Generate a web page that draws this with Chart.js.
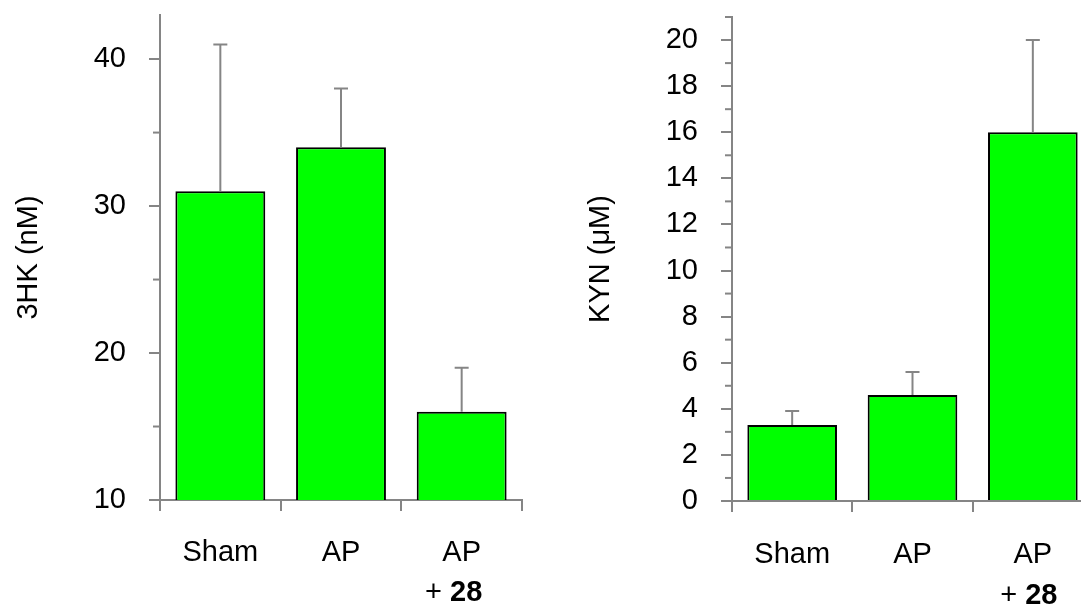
<!DOCTYPE html>
<html lang="en">
<head>
    <meta charset="UTF-8">
    <meta name="viewport" content="width=device-width, initial-scale=1.0">
    <title>3HK y KYN</title>
    <script src="https://cdn.jsdelivr.net/npm/chart.js"></script>
    <style>
        body {
            margin: 0;
            background: #ffffff;
            width: 1081px;
            height: 608px;
            overflow: hidden;
            position: relative;
        }
        #hkChart {
            position: absolute;
            left: 0;
            top: 0;
        }
        #kynChart {
            position: absolute;
            left: 540px;
            top: 0;
        }
    </style>
</head>
<body>
    <canvas id="hkChart" width="540" height="608"></canvas>
    <canvas id="kynChart" width="570" height="608"></canvas>

    <script>
        // Grupos (segunda línea solo en el tercero)
        const categories = [['Sham'], ['AP'], ['AP', '+ 28']];

        // 3HK (nM)
        const hkValues = [31, 34, 16];
        const hkErrors = [10, 4, 3];
        const hkMajorTicks = [10, 20, 30, 40];
        const hkMinorTicks = [15, 25, 35];

        // KYN (µM)
        const kynValues = [3.3, 4.6, 16];
        const kynErrors = [0.6, 1.0, 4.0];
        const kynMajorTicks = [0, 2, 4, 6, 8, 10, 12, 14, 16, 18, 20];
        const kynMinorTicks = [1, 3, 5, 7, 9, 11, 13, 15, 17, 19, 21];

        const axisColor = '#858585';
        const fontFamily = "'Liberation Sans', Arial, sans-serif";
        const fontSize = 29;

        // Barras de error, ticks menores y segunda línea de etiquetas
        const extrasPlugin = {
            id: 'extras',
            afterDatasetsDraw(chart, args, opts) {
                const ctx = chart.ctx;
                const x = chart.scales.x;
                const y = chart.scales.y;
                const meta = chart.getDatasetMeta(0);
                ctx.save();
                ctx.strokeStyle = axisColor;
                ctx.lineWidth = 2;

                opts.values.forEach((v, i) => {
                    const cx = meta.data[i].x;
                    const base = y.getPixelForValue(v);
                    const top = y.getPixelForValue(v + opts.errors[i]);
                    ctx.beginPath();
                    ctx.moveTo(cx, base);
                    ctx.lineTo(cx, top);
                    ctx.moveTo(cx - 7, top);
                    ctx.lineTo(cx + 7, top);
                    ctx.stroke();
                });

                opts.minor.forEach(v => {
                    const py = y.getPixelForValue(v);
                    ctx.beginPath();
                    ctx.moveTo(x.left - 7, py);
                    ctx.lineTo(x.left, py);
                    ctx.stroke();
                });

                ctx.fillStyle = '#000000';
                ctx.textBaseline = 'middle';
                ctx.textAlign = 'left';
                categories.forEach((lines, i) => {
                    if (lines.length < 2) return;
                    const m = lines[1].match(/^(\D*)(\d+)$/);
                    const cx = x.getPixelForValue(i) + opts.secondLineShift;
                    const ly = x.top + opts.secondLineOffset;
                    ctx.font = fontSize + 'px ' + fontFamily;
                    const w1 = ctx.measureText(m[1]).width;
                    ctx.font = 'bold ' + fontSize + 'px ' + fontFamily;
                    const w2 = ctx.measureText(m[2]).width;
                    const sx = cx - (w1 + w2) / 2;
                    ctx.font = fontSize + 'px ' + fontFamily;
                    ctx.fillText(m[1], sx, ly);
                    ctx.font = 'bold ' + fontSize + 'px ' + fontFamily;
                    ctx.fillText(m[2], sx + w1, ly);
                });
                ctx.restore();
            }
        };

        function makeChart(id, values, errors, majors, minors, cfg) {
            const ctx = document.getElementById(id).getContext('2d');
            return new Chart(ctx, {
                type: 'bar',
                data: {
                    labels: categories.map(c => c.join(' ')),
                    datasets: [{
                        data: values,
                        backgroundColor: '#00ff00',
                        borderColor: '#000000',
                        borderWidth: 2,
                        barPercentage: 0.745,
                        categoryPercentage: 1
                    }]
                },
                options: {
                    responsive: false,
                    animation: false,
                    devicePixelRatio: 1,
                    layout: {
                        padding: { top: cfg.padTop, right: cfg.padRight, left: 0, bottom: 0 }
                    },
                    plugins: {
                        legend: { display: false },
                        tooltip: { enabled: false },
                        extras: {
                            values: values,
                            errors: errors,
                            minor: minors,
                            secondLineOffset: cfg.secondLineOffset,
                            secondLineShift: cfg.secondLineShift
                        }
                    },
                    scales: {
                        x: {
                            afterFit: s => { s.height = cfg.xHeight; s.paddingLeft = 0; s.paddingRight = 0; },
                            grid: { drawOnChartArea: false, offset: true, color: axisColor, lineWidth: 2, tickLength: 11 },
                            border: { color: axisColor, width: 2 },
                            ticks: {
                                color: '#000000',
                                font: { family: fontFamily, size: fontSize },
                                padding: cfg.xPad,
                                maxRotation: 0,
                                autoSkip: false,
                                callback: (v, i) => categories[i][0]
                            }
                        },
                        y: {
                            min: cfg.min,
                            max: cfg.max,
                            afterBuildTicks: s => { s.ticks = majors.map(v => ({ value: v })); },
                            afterFit: s => { s.width = cfg.yWidth; s.paddingTop = 0; s.paddingBottom = 0; },
                            grid: { drawOnChartArea: false, color: axisColor, lineWidth: 2, tickLength: 11 },
                            border: { color: axisColor, width: 2 },
                            ticks: {
                                color: '#000000',
                                font: { family: fontFamily, size: fontSize },
                                padding: 23
                            },
                            title: {
                                display: true,
                                text: cfg.title,
                                color: '#000000',
                                font: { family: fontFamily, size: fontSize },
                                padding: { top: cfg.titlePad, bottom: 0 }
                            }
                        }
                    }
                },
                plugins: [extrasPlugin]
            });
        }

        makeChart('hkChart', hkValues, hkErrors, hkMajorTicks, hkMinorTicks, {
            min: 10, max: 43, title: '3HK (nM)',
            padTop: 15, padRight: 18, yWidth: 160, xHeight: 108,
            xPad: 25, titlePad: 12, secondLineOffset: 93, secondLineShift: -8
        });

        makeChart('kynChart', kynValues, kynErrors, kynMajorTicks, kynMinorTicks, {
            min: 0, max: 21, title: 'KYN (μM)',
            padTop: 17, padRight: 17, yWidth: 192, xHeight: 107,
            xPad: 26, titlePad: 44, secondLineOffset: 95, secondLineShift: -4
        });
    </script>
</body>
</html>
